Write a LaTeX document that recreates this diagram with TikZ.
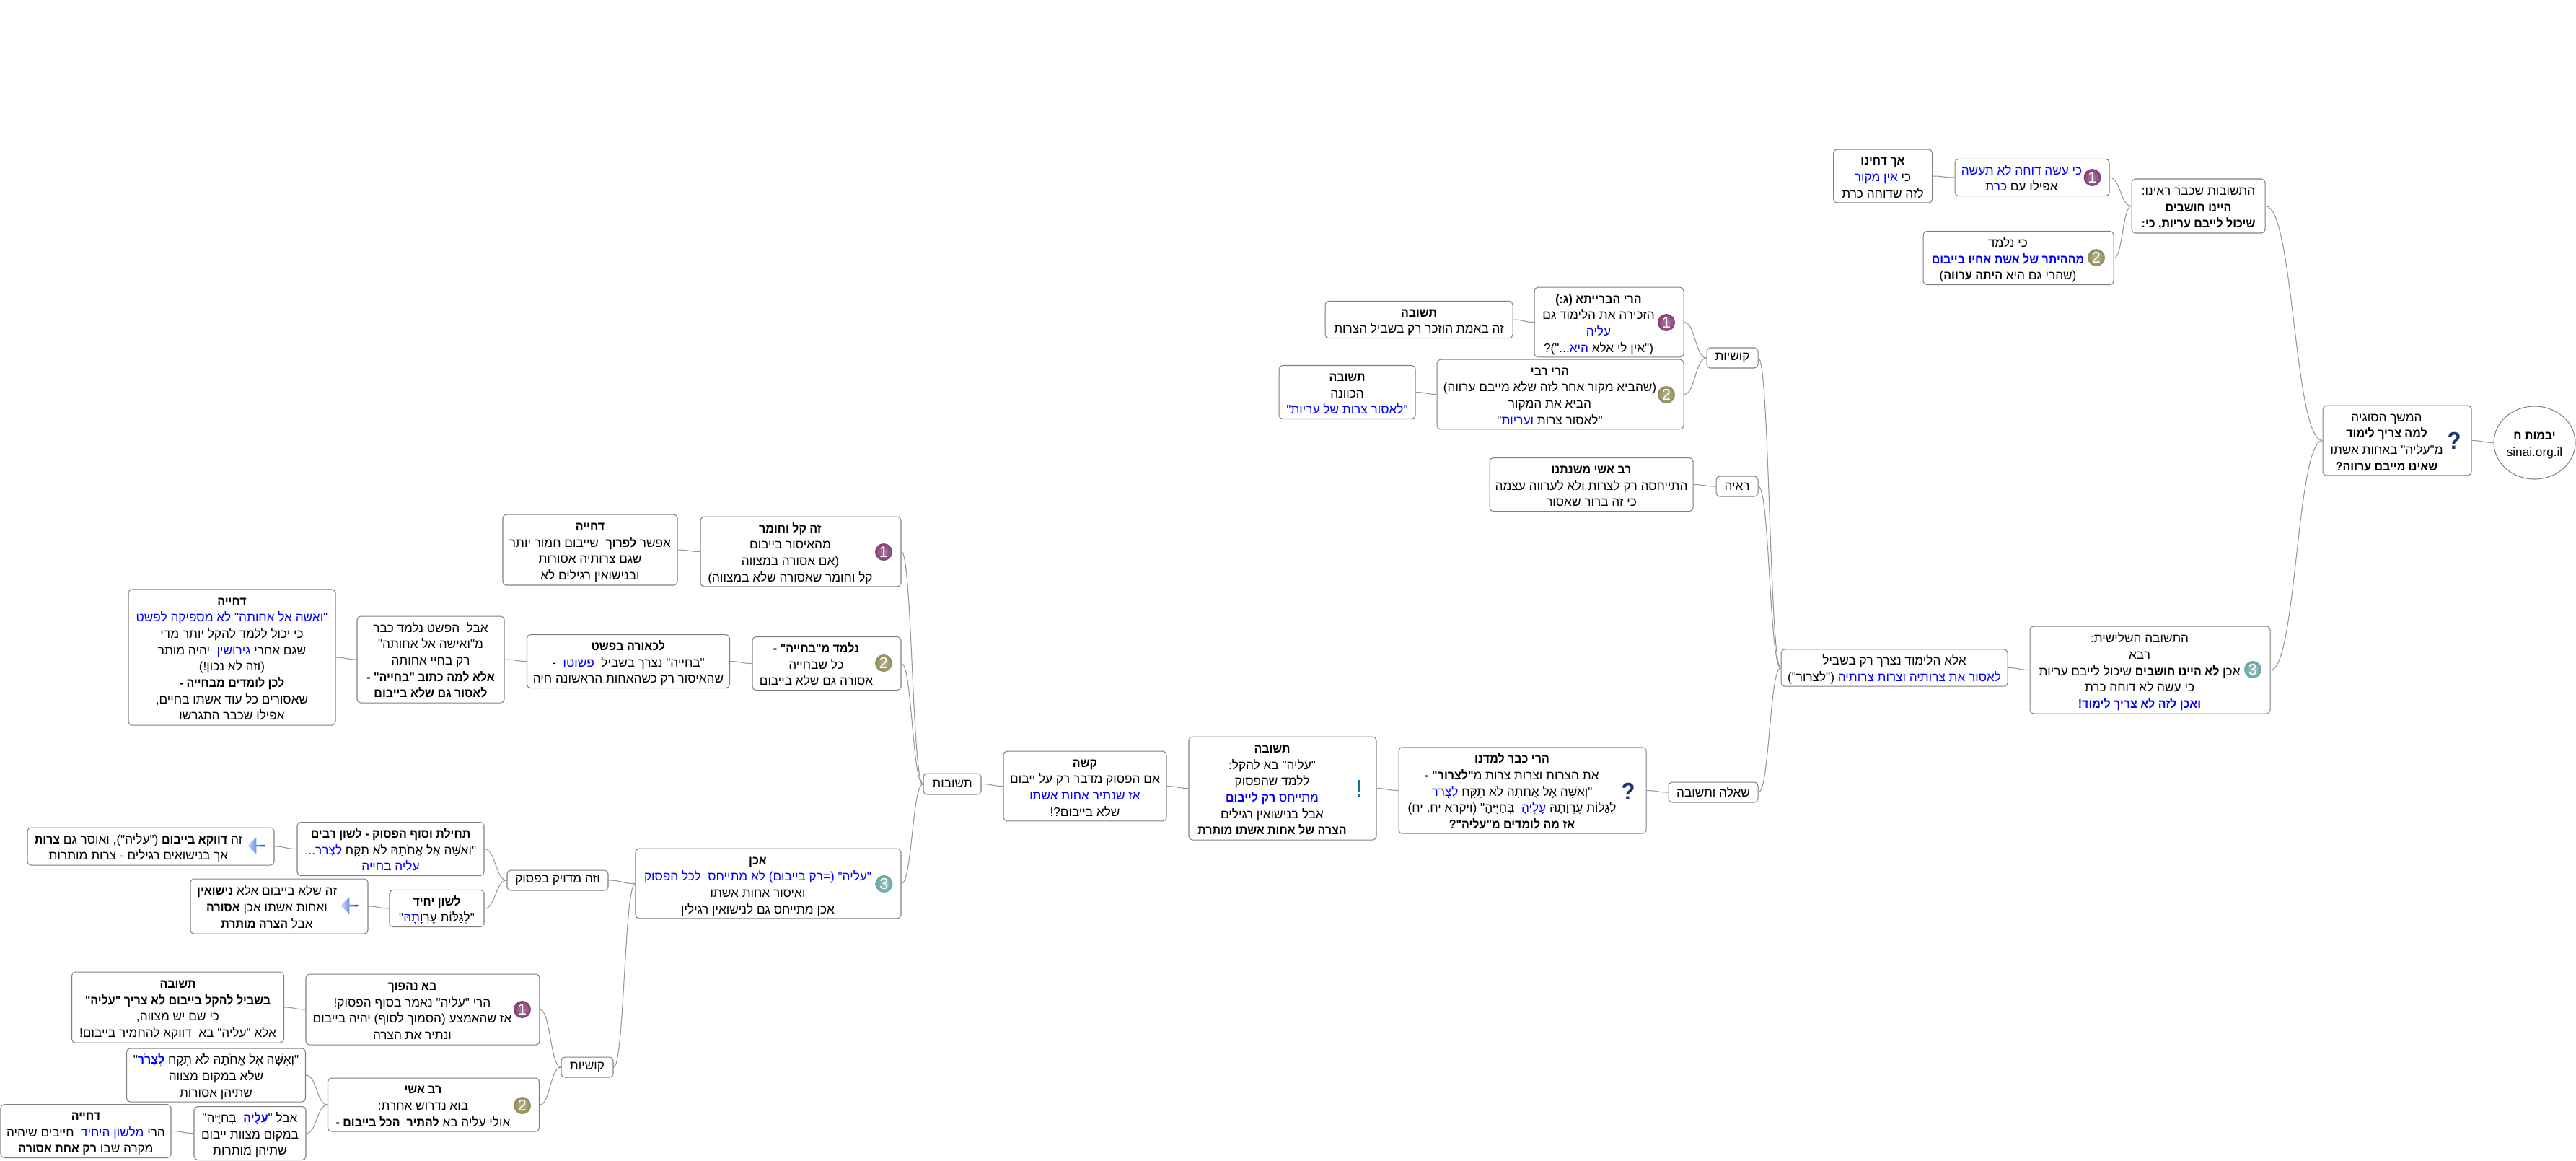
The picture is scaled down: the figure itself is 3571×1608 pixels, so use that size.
\documentclass[tikz,border=0pt]{standalone}
\usepackage{fontspec}
\setmainfont{Liberation Sans}
\newfontfamily\hebfont[Script=Hebrew,BoldFeatures={FakeStretch=0.93}]{Liberation Sans}
\newfontfamily\bluefont[Script=Hebrew,Color=0000FF,BoldFeatures={FakeStretch=0.93}]{Liberation Sans}
\TeXXeTstate=1
\usepackage{xcolor}
\definecolor{boxgray}{RGB}{128,128,128}
\definecolor{linkgray}{RGB}{150,150,150}
\definecolor{markblue}{RGB}{30,50,115}
\definecolor{ballone}{RGB}{130,60,115}
\definecolor{balltwo}{RGB}{145,140,90}
\definecolor{ballthree}{RGB}{105,165,165}
\definecolor{ptrblue}{RGB}{0,80,200}
\usetikzlibrary{calc, shapes.geometric, shapes.arrows}
\newcommand{\R}[1]{\beginR#1\endR}
\newcommand{\bl}[1]{{\bluefont#1}}
\newcommand{\bo}[1]{\textbf{#1}}
\newcommand{\rows}[2][0mm]{\vbox{\kern0.6mm\hbox{\begin{tabular}{@{}c@{}}#2\end{tabular}\hspace*{#1}}}}

\begin{document}
\begin{tikzpicture}[
    x=0.1mm, y=-0.1mm,
    box/.style 2 args={rectangle, rounded corners=0.5mm, draw=boxgray, line width=0.3pt,
      inner sep=0pt, minimum width=#1*0.1mm, minimum height=#2*0.1mm, align=center,
      font=\fontsize{4.9pt}{6.45pt}\selectfont\hebfont},
    rootnode/.style={ellipse, draw=boxgray, line width=0.3pt, inner sep=0pt,
      minimum width=11.3mm, minimum height=10.1mm, align=center,
      font=\fontsize{4.9pt}{6.45pt}\selectfont\hebfont},
    ball/.style={circle, inner sep=0pt, minimum size=2.4mm, shading=radial,
      inner color=#1!65!white, outer color=#1, text=white,
      font=\fontsize{6.2pt}{6.2pt}\selectfont},
    signmark/.style={inner sep=0pt, text=markblue, font=\fontsize{9.5pt}{9.5pt}\selectfont\hebfont\bfseries},
    pointer/.style={single arrow, shape border rotate=180, inner sep=0pt,
      minimum width=2.4mm, minimum height=2.4mm, single arrow head extend=0.6mm,
      left color=blue!15, right color=ptrblue},
    link/.style={draw=linkgray, line width=0.3pt,
      to path={let \p1=(\tikztostart), \p2=(\tikztotarget), \n1={0.5*(\x2-\x1)} in
        .. controls (\x1+\n1,\y1) and (\x2-\n1,\y2) .. (\tikztotarget)}}
]
\useasboundingbox (0,0) rectangle (3571,1608);

%% Right side: the root and the earlier answers
\node[rootnode] (root) at (3513.5,613.5) {\rows{\R{\bo{יבמות ח}}\\{\fontspec{Liberation Sans}sinai.org.il}}};
\node[box={206}{95}] (sugya) at (3323,610.5) {\rows[2.9mm]{\R{המשך הסוגיה}\\\R{\bo{למה צריך לימוד}}\\\R{מ"עליה" באחות אשתו}\\\R{\bo{שאינו מייבם ערווה?}}}};
\node[signmark] (sugyamark) at (3402,611) {?};
\node[box={185}{75}] (prev) at (3047.5,285.5) {\rows{\R{התשובות שכבר ראינו:}\\\R{\bo{היינו חושבים}}\\\R{\bo{שיכול לייבם עריות, כי:}}}};
\node[box={214}{50}] (aseh) at (2817,246) {\rows[2.9mm]{\R{\bl{כי עשה דוחה לא תעשה}}\\\R{אפילו עם \bl{כרת}}}};
\node[ball=ballone] (asehball) at (2900.5,246) {1};
\node[box={137}{74}] (dachinu) at (2610,244) {\rows{\R{\bo{אך דחינו}}\\\R{כי \bl{אין מקור}}\\\R{לזה שדוחה כרת}}};
\node[box={264}{73}] (nilmad) at (2798,357.5) {\rows[2.9mm]{\R{כי נלמד}\\\R{\bl{\bo{מההיתר של אשת אחיו בייבום}}}\\\R{(שהרי גם היא \bo{היתה ערווה})}}};
\node[ball=balltwo] (nilmadball) at (2906,357) {2};
\node[box={333}{121}] (third) at (2980.5,928.5) {\rows[2.9mm]{\R{התשובה השלישית:}\\\R{רבא}\\\R{אכן \bo{לא היינו חושבים} שיכול לייבם עריות}\\\R{כי עשה לא דוחה כרת}\\\R{\bl{\bo{ואכן לזה לא צריך לימוד!}}}}};
\node[ball=ballthree] (thirdball) at (3123,928) {3};
\draw[link] (sugya.east) to (root.west);
\draw[link] (prev.east) to (sugya.west);
\draw[link] (third.east) to (sugya.west);
\draw[link] (aseh.east) to (prev.west);
\draw[link] (nilmad.east) to (prev.west);
\draw[link] (dachinu.east) to (aseh.west);

%% Middle: the source and its questions
\node[box={314}{51}] (ela) at (2626,925.5) {\rows{\R{אלא הלימוד נצרך רק בשביל}\\\R{\bl{לאסור את צרותיה וצרות צרותיה} ("לצרור")}}};
\node[box={71}{28}] (kushiot) at (2401.5,496) {\R{קושיות}};
\node[box={58}{28}] (raaya) at (2408,674) {\R{ראיה}};
\node[box={124}{28}] (sheela) at (2375,1098) {\R{שאלה ותשובה}};
\node[box={207}{95}] (briyta) at (2230.5,446.5) {\rows[2.9mm]{\R{\bo{הרי הברייתא (ג:)}}\\\R{הזכירה את הלימוד גם}\\\R{\bl{עליה}}\\\R{("אין לי אלא \bl{היא}...")?}}};
\node[ball=ballone] (briytaball) at (2310,447) {1};
\node[box={260}{50}] (tshuvaa) at (1967,443) {\rows{\R{\bo{תשובה}}\\\R{זה באמת הוזכר רק בשביל הצרות}}};
\node[box={342}{95}] (rabbi) at (2163,546.5) {\rows[2.9mm]{\R{\bo{הרי רבי}}\\\R{(שהביא מקור אחר לזה שלא מייבם ערווה)}\\\R{הביא את המקור}\\\R{"לאסור צרות \bl{ועריות}"}}};
\node[ball=balltwo] (rabbiball) at (2310,547) {2};
\node[box={189}{73}] (tshuvab) at (1867.5,543.5) {\rows{\R{\bo{תשובה}}\\\R{הכוונה}\\\R{\bl{"לאסור צרות של עריות"}}}};
\node[box={282}{73}] (mishna) at (2206,671.5) {\rows{\R{\bo{רב אשי משנתנו}}\\\R{התייחסה רק לצרות ולא לערווה עצמה}\\\R{כי זה ברור שאסור}}};
\node[box={343}{119}] (kvar) at (2110.5,1095.5) {\rows[2.9mm]{\R{\bo{הרי כבר למדנו}}\\\R{את הצרות וצרות צרות מ\bo{"לצרור" -}}\\\R{"וְאִשָּׁה אֶל אֲחֹתָהּ לֹא תִקָּח \bl{לִצְרֹר}}\\\R{לְגַלּוֹת עֶרְוָתָהּ \bl{עָלֶיהָ}\ \ בְּחַיֶּיהָ" (ויקרא יח, יח)}\\\R{\bo{אז מה לומדים מ"עליה"?}}}};
\node[signmark] (kvarmark) at (2257,1097) {?};
\node[box={260}{143}] (tshuvac) at (1778,1092.5) {\rows[2.9mm]{\R{\bo{תשובה}}\\\R{"עליה" בא להקל:}\\\R{ללמד שהפסוק}\\\R{\bl{מתייחס \bo{רק לייבום}}}\\\R{אבל בנישואין רגילים}\\\R{\bo{הצרה של אחות אשתו מותרת}}}};
\node[signmark, text=markblue!70!cyan, font=\fontsize{9.5pt}{9.5pt}\selectfont] (tshuvacmark) at (1884,1093) {!};
\node[box={226}{95}] (kasheh) at (1504,1089.5) {\rows{\R{\bo{קשה}}\\\R{אם הפסוק מדבר רק על ייבום}\\\R{\bl{אז שנתיר אחות אשתו}}\\\R{שלא בייבום?!}}};
\node[box={80}{29}] (tshuvot) at (1320,1086.5) {\R{תשובות}};
\draw[link] (ela.east) to (third.west);
\draw[link] (kushiot.east) to (ela.west);
\draw[link] (raaya.east) to (ela.west);
\draw[link] (sheela.east) to (ela.west);
\draw[link] (briyta.east) to (kushiot.west);
\draw[link] (rabbi.east) to (kushiot.west);
\draw[link] (tshuvaa.east) to (briyta.west);
\draw[link] (tshuvab.east) to (rabbi.west);
\draw[link] (mishna.east) to (raaya.west);
\draw[link] (kvar.east) to (sheela.west);
\draw[link] (tshuvac.east) to (kvar.west);
\draw[link] (kasheh.east) to (tshuvac.west);
\draw[link] (tshuvot.east) to (kasheh.west);

%% Left side: the three answers
\node[box={278}{95}] (kal) at (1110,764.5) {\rows[2.9mm]{\R{\bo{זה קל וחומר}}\\\R{מהאיסור בייבום}\\\R{(אם אסורה במצווה}\\\R{קל וחומר שאסורה שלא במצווה)}}};
\node[ball=ballone] (kalball) at (1225,765) {1};
\node[box={242}{98}] (dchiyaa) at (818,762) {\rows{\R{\bo{דחייה}}\\\R{אפשר \bo{לפרוך}\ \ שייבום חמור יותר}\\\R{שגם צרותיה אסורות}\\\R{ובנישואין רגילים לא}}};
\node[box={206}{73}] (nilmadb) at (1146,919.5) {\rows[2.9mm]{\R{\bo{נלמד מ"בחייה" -}}\\\R{כל שבחייה}\\\R{אסורה גם שלא בייבום}}};
\node[ball=balltwo] (nilmadbball) at (1225,919) {2};
\node[box={281}{73}] (lichora) at (871,916.5) {\rows{\R{\bo{לכאורה בפשט}}\\\R{"בחייה" נצרך בשביל\ \ \bl{פשוטו}\ \ -}\\\R{שהאיסור רק כשהאחות הראשונה חיה}}};
\node[box={204}{120}] (aval) at (597,914) {\rows{\R{אבל\ \ הפשט נלמד כבר}\\\R{מ"ואישה אל אחותה"}\\\R{רק בחיי אחותה}\\\R{\bo{אלא למה כתוב "בחייה" -}}\\\R{\bo{לאסור גם שלא בייבום}}}};
\node[box={287}{188}] (dchiyab) at (321.5,911) {\rows{\R{\bo{דחייה}}\\\R{\bl{"ואשה אל אחותה" לא מספיקה לפשט}}\\\R{כי יכול ללמד להקל יותר מדי}\\\R{שגם אחרי \bl{גירושין}\ \ יהיה מותר}\\\R{(וזה לא נכון!)}\\\R{\bo{לכן לומדים מבחייה -}}\\\R{שאסורים כל עוד אשתו בחיים,}\\\R{אפילו שכבר התגרשו}}};
\node[box={368}{95}] (achen) at (1065,1224.5) {\rows[2.9mm]{\R{\bo{אכן}}\\\R{\bl{"עליה" (=רק בייבום) לא מתייחס\ \ לכל הפסוק}}\\\R{ואיסור אחות אשתו}\\\R{אכן מתייחס גם לנישואין רגילין}}};
\node[ball=ballthree] (achenball) at (1225.5,1225) {3};
\node[box={140}{28}] (meduyak) at (773,1220) {\R{וזה מדויק בפסוק}};
\node[box={259}{73}] (techila) at (541.5,1176.5) {\rows{\R{\bo{תחילת וסוף הפסוק - לשון רבים}}\\\R{"וְאִשָּׁה אֶל אֲחֹתָהּ לֹא תִקָּח \bl{לִצְרֹר...}}\\\R{\bl{עליה בחייה}}}};
\node[box={342}{52}] (zedavka) at (209,1173) {\rows[3.4mm]{\R{זה \bo{דווקא בייבום} ("עליה"), ואוסר גם \bo{צרות}}\\\R{אך בנישואים רגילים - צרות מותרות}}};
\node[pointer] (zedavkaptr) at (356,1172) {};
\node[box={131}{50}] (yachid) at (605.5,1259) {\rows{\R{\bo{לשון יחיד}}\\\R{"לְגַלּוֹת עֶרְוָ\bl{תָהּ}"}}};
\node[box={246}{76}] (zeshelo) at (387,1256) {\rows[3.4mm]{\R{זה שלא בייבום אלא \bo{נישואין}}\\\R{ואחות אשתו אכן \bo{אסורה}}\\\R{אבל \bo{הצרה מותרת}}}};
\node[pointer] (zesheloptr) at (485,1255) {};
\node[box={72}{28}] (kushiotb) at (814,1479) {\R{קושיות}};
\node[box={324}{98}] (nahafoch) at (586,1399) {\rows[2.9mm]{\R{\bo{בא נהפוך}}\\\R{הרי "עליה" נאמר בסוף הפסוק!}\\\R{אז שהאמצע (הסמוך לסוף) יהיה בייבום}\\\R{ונתיר את הצרה}}};
\node[ball=ballone] (nahafochball) at (724,1399) {1};
\node[box={294}{98}] (tshuvad) at (246.5,1396) {\rows{\R{\bo{תשובה}}\\\R{\bo{בשביל להקל בייבום לא צריך "עליה"}}\\\R{כי שם יש מצווה,}\\\R{אלא "עליה" בא\ \ דווקא להחמיר בייבום!}}};
\node[box={293}{74}] (ravashi) at (601,1531) {\rows[2.9mm]{\R{\bo{רב אשי}}\\\R{בוא נדרוש אחרת:}\\\R{אולי עליה בא \bo{להתיר\ \ הכל בייבום -}}}};
\node[ball=balltwo] (ravashiball) at (724,1532) {2};
\node[box={248}{74}] (veisha) at (299.5,1490) {\rows{\R{"וְאִשָּׁה אֶל אֲחֹתָהּ לֹא תִקָּח \bl{\bo{לִצְרֹר}}"}\\\R{שלא במקום מצווה}\\\R{שתיהן אסורות}}};
\node[box={155}{73}] (avalb) at (346.5,1570.5) {\rows{\R{אבל "\bl{\bo{עָלֶיהָ}}\ \ בְּחַיֶּיהָ"}\\\R{במקום מצוות ייבום}\\\R{שתיהן מותרות}}};
\node[box={236}{73}] (dchiyac) at (119,1567.5) {\rows{\R{\bo{דחייה}}\\\R{הרי \bl{מלשון היחיד}\ \ חייבים שיהיה}\\\R{מקרה שבו \bo{רק אחת אסורה}}}};
\draw[link] (kal.east) to (tshuvot.west);
\draw[link] (nilmadb.east) to (tshuvot.west);
\draw[link] (achen.east) to (tshuvot.west);
\draw[link] (dchiyaa.east) to (kal.west);
\draw[link] (lichora.east) to (nilmadb.west);
\draw[link] (aval.east) to (lichora.west);
\draw[link] (dchiyab.east) to (aval.west);
\draw[link] (meduyak.east) to (achen.west);
\draw[link] (kushiotb.east) to (achen.west);
\draw[link] (techila.east) to (meduyak.west);
\draw[link] (yachid.east) to (meduyak.west);
\draw[link] (zedavka.east) to (techila.west);
\draw[link] (zeshelo.east) to (yachid.west);
\draw[link] (nahafoch.east) to (kushiotb.west);
\draw[link] (ravashi.east) to (kushiotb.west);
\draw[link] (tshuvad.east) to (nahafoch.west);
\draw[link] (veisha.east) to (ravashi.west);
\draw[link] (avalb.east) to (ravashi.west);
\draw[link] (dchiyac.east) to (avalb.west);
\end{tikzpicture}
\end{document}
